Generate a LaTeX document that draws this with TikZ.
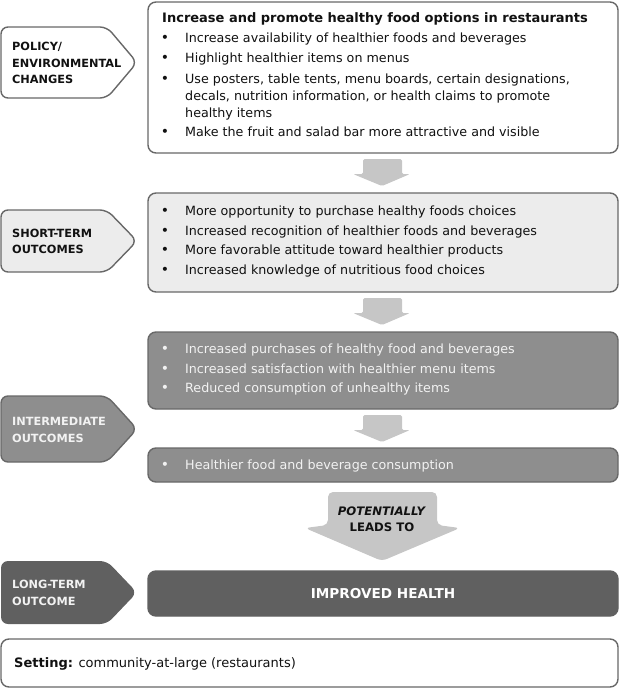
\documentclass[tikz,border=0pt]{standalone}
\usepackage{fontspec}
\setmainfont{DejaVu Sans}
\definecolor{edgec}{HTML}{686868}
\definecolor{fillB}{HTML}{ECECEC}
\definecolor{fillC}{HTML}{8E8E8E}
\definecolor{fillD}{HTML}{606060}
\definecolor{arrc}{HTML}{C6C6C6}
\definecolor{lightt}{HTML}{F2F2F2}
\definecolor{darkt}{HTML}{111111}
\newcommand\lblshape[3]{% top, bottom, fill
  \draw[lblpath, fill=#3] (1,#1) -- (107,#1) -- (137,{(#1+#2)/2}) -- (107,#2) -- (1,#2) -- cycle;}
\newcommand\myarrow[2]{% name, top y
  \draw[blockarr] (382,#2+27) coordinate (#1) -- (353,#2+15) -- (363,#2+15) -- (363,#2) -- (402,#2) -- (402,#2+15) -- (410,#2+15) -- cycle;}
\newcommand\bitem[4]{% name, y, text, colour
  \node[bul, text=#4] (#1b) at (165,#2) {\textbullet};
  \node[itm, text=#4] (#1) at (185,#2) {#3};}
\newcommand\contline[4]{% name, y, text, colour
  \node[itm, text=#4] (#1) at (185,#2) {#3};}
\begin{document}
\begin{tikzpicture}[x=1pt,y=-1pt,
  box/.style={draw=edgec, line width=1.4pt, rounded corners=8pt, inner sep=0pt},
  lblpath/.style={draw=edgec, line width=1.4pt, rounded corners=7pt},
  blockarr/.style={fill=arrc, draw=none, rounded corners=1.5pt},
  itm/.style={anchor=west, inner sep=0pt, font=\fontsize{12.7}{14}\selectfont, text height=9.5pt, text depth=3pt},
  bul/.style={anchor=center, inner sep=0pt, font=\fontsize{14}{14}\selectfont},
  lbltxt/.style={anchor=west, inner sep=0pt, align=left, font=\fontsize{11.3}{16.5}\bfseries\selectfont}]
\useasboundingbox (0,0) rectangle (620,689);
% ---------- boxes ----------
\node[box, fill=white, minimum width=470pt, minimum height=151pt] (b1) at (383,77.5) {};
\node[box, fill=fillB, minimum width=470pt, minimum height=99pt] (b2) at (383,242.5) {};
\node[box, fill=fillC, minimum width=470pt, minimum height=77pt] (b3) at (383,370.5) {};
\node[box, fill=fillC, minimum width=470pt, minimum height=34pt] (b4) at (383,465) {};
\node[box, draw=fillD, fill=fillD, minimum width=470pt, minimum height=45pt, font=\fontsize{13.6}{15}\bfseries\selectfont, text=white] (b5) at (383,593.5) {IMPROVED HEALTH};
\node[box, fill=white, minimum width=617pt, minimum height=48pt] (set) at (309.5,663) {};
\node[itm, text=darkt, font=\fontsize{13}{15}\selectfont] (settxt) at (14,664) {\textbf{Setting:} community-at-large (restaurants)};
% ---------- labels ----------
\lblshape{27}{98}{white}
\node[lbltxt, text=darkt] (l1) at (12,63) {POLICY/\\ENVIRONMENTAL\\CHANGES};
\lblshape{210}{272}{fillB}
\node[lbltxt, text=darkt] (l2) at (12,241.5) {SHORT-TERM\\OUTCOMES};
\lblshape{396}{462}{fillC}
\node[lbltxt, text=lightt] (l3) at (12,430) {INTERMEDIATE\\OUTCOMES};
\fill[fillD, rounded corners=7pt] (1,561) -- (107,561) -- (137,592.5) -- (107,624) -- (1,624) -- cycle;
\node[lbltxt, text=lightt] (l4) at (12,593) {LONG-TERM\\OUTCOME};
% ---------- box 1 text ----------
\node[itm, text=darkt, font=\fontsize{13}{14}\bfseries\selectfont] (t1) at (162,19) {Increase and promote healthy food options in restaurants};
\bitem{i11}{39}{Increase availability of healthier foods and beverages}{darkt}
\bitem{i12}{59}{Highlight healthier items on menus}{darkt}
\bitem{i13}{80}{Use posters, table tents, menu boards, certain designations,}{darkt}
\contline{i13a}{97}{decals, nutrition information, or health claims to promote}{darkt}
\contline{i13b}{114}{healthy items}{darkt}
\bitem{i14}{133}{Make the fruit and salad bar more attractive and visible}{darkt}
% ---------- box 2 text ----------
\bitem{i21}{212}{More opportunity to purchase healthy foods choices}{darkt}
\bitem{i22}{232}{Increased recognition of healthier foods and beverages}{darkt}
\bitem{i23}{251}{More favorable attitude toward healthier products}{darkt}
\bitem{i24}{271}{Increased knowledge of nutritious food choices}{darkt}
% ---------- box 3 text ----------
\bitem{i31}{350}{Increased purchases of healthy food and beverages}{lightt}
\bitem{i32}{370}{Increased satisfaction with healthier menu items}{lightt}
\bitem{i33}{389}{Reduced consumption of unhealthy items}{lightt}
% ---------- box 4 text ----------
\bitem{i41}{466}{Healthier food and beverage consumption}{lightt}
% ---------- arrows ----------
\myarrow{a1}{159}
\myarrow{a2}{298}
\myarrow{a3}{415}
\fill[arrc, rounded corners=5pt] (382,561) -- (305,528) -- (328,525) -- (328,492) -- (437,492) -- (437,525) -- (460,528) -- cycle;
\node[inner sep=0pt, align=center, font=\fontsize{11.7}{16}\bfseries\selectfont, text=darkt] (pl) at (382,519) {\textit{POTENTIALLY}\\LEADS TO};
\end{tikzpicture}
\end{document}
